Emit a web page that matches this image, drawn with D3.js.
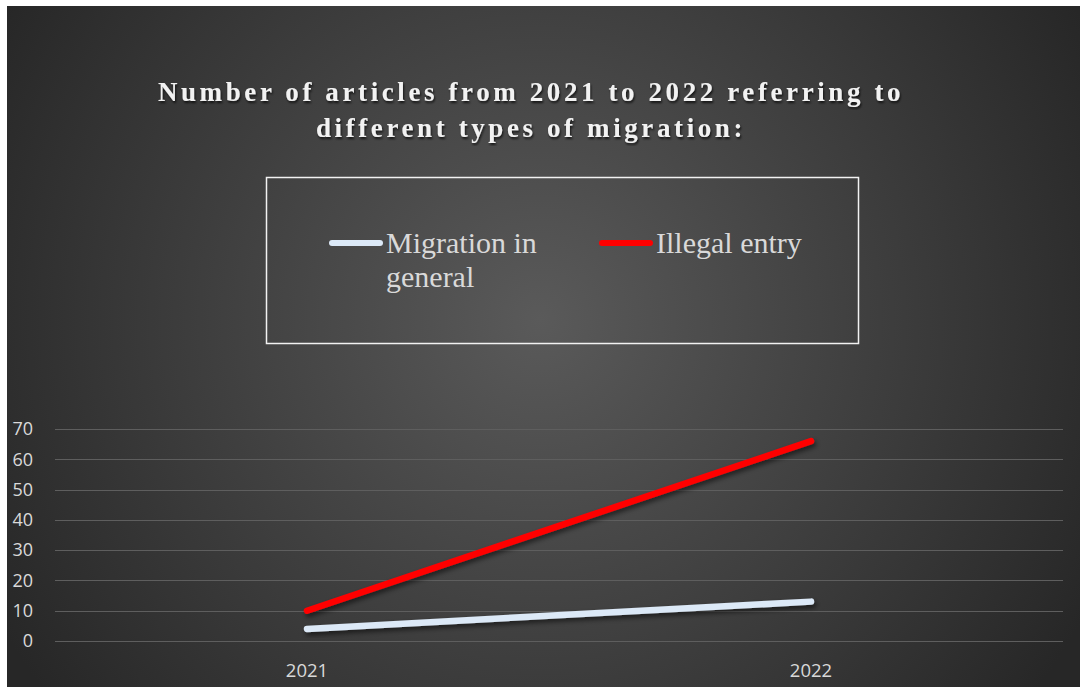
<!DOCTYPE html>
<html>
<head>
<meta charset="utf-8">
<script src="https://cdn.jsdelivr.net/npm/d3@7"></script>
<style>
  html, body { margin: 0; padding: 0; background: #ffffff; }
  svg { display: block; }
</style>
</head>
<body>
<script>
// Chart data
const categories = ["2021", "2022"];
const seriesNames = ["Migration in general", "Illegal entry"];
const migrationInGeneral = [4, 13];
const illegalEntry = [10, 66];
const yTicks = [0, 10, 20, 30, 40, 50, 60, 70];
const titleLines = [
  "Number of articles from 2021 to 2022 referring to",
  "different types of migration:"
];
const seriesColors = ["#dce9f7", "#ff0000"];

const W = 1083, H = 687;
const svg = d3.select("body").append("svg").attr("width", W).attr("height", H);
const defs = svg.append("defs");

// Dark background with a soft light centre
const grad = defs.append("radialGradient")
  .attr("id", "bg").attr("gradientUnits", "userSpaceOnUse")
  .attr("cx", 540).attr("cy", 320).attr("r", 620);
grad.append("stop").attr("offset", "0%").attr("stop-color", "#5a5a5a");
grad.append("stop").attr("offset", "100%").attr("stop-color", "#272727");

const shadow = defs.append("filter").attr("id", "shadow")
  .attr("x", "-10%").attr("y", "-30%").attr("width", "120%").attr("height", "160%");
shadow.append("feDropShadow").attr("dx", 2).attr("dy", 3).attr("stdDeviation", 2.5)
  .attr("flood-color", "#000").attr("flood-opacity", 0.55);

const textShadow = defs.append("filter").attr("id", "tshadow");
textShadow.append("feDropShadow").attr("dx", 1).attr("dy", 2).attr("stdDeviation", 1.2)
  .attr("flood-color", "#000").attr("flood-opacity", 0.7);

svg.append("rect").attr("x", 7).attr("y", 6).attr("width", 1073).attr("height", 681)
  .attr("fill", "url(#bg)");

// Title
svg.append("g").selectAll("text").data(titleLines).join("text")
  .attr("x", 531).attr("y", (d, i) => 101 + i * 36)
  .attr("text-anchor", "middle")
  .attr("font-family", "Liberation Serif, Times New Roman, serif")
  .attr("font-weight", "bold").attr("font-size", 27)
  .attr("letter-spacing", 3.6)
  .attr("fill", "#f2f2f2")
  .attr("filter", "url(#tshadow)")
  .text(d => d);

// Legend
const legend = svg.append("g");
legend.append("rect").attr("x", 266.5).attr("y", 177.5).attr("width", 592).attr("height", 166)
  .attr("fill", "none").attr("stroke", "#f2f2f2").attr("stroke-width", 1.5);

const legendItems = [
  { name: seriesNames[0], lines: ["Migration in", "general"], x: 330, color: seriesColors[0] },
  { name: seriesNames[1], lines: ["Illegal entry"], x: 600, color: seriesColors[1] }
];
legendItems.forEach(item => {
  legend.append("line").attr("x1", item.x + 2).attr("x2", item.x + 50)
    .attr("y1", 243).attr("y2", 243)
    .attr("stroke", item.color).attr("stroke-width", 6).attr("stroke-linecap", "round");
  legend.append("g").selectAll("text").data(item.lines).join("text")
    .attr("x", item.x + 56).attr("y", (d, i) => 253 + i * 34)
    .attr("font-family", "Liberation Serif, Times New Roman, serif")
    .attr("font-size", 30).attr("fill", "#d9d9d9")
    .text(d => d);
});

// Plot area
const plot = { left: 55, right: 1063, top: 429, bottom: 641 };
const x = d3.scaleBand().domain(categories).range([plot.left, plot.right]);
const y = d3.scaleLinear().domain([0, 70]).range([plot.bottom, plot.top]);

// Gridlines
svg.append("g").selectAll("line").data(yTicks).join("line")
  .attr("x1", plot.left).attr("x2", plot.right)
  .attr("y1", d => Math.round(y(d)) + 0.5).attr("y2", d => Math.round(y(d)) + 0.5)
  .attr("stroke", "#5e5e5e").attr("stroke-width", 1);

// Y axis labels
const yAxis = svg.append("g").attr("transform", `translate(${plot.left - 22},0)`)
  .call(d3.axisLeft(y).tickValues(yTicks).tickSize(0).tickPadding(0));
yAxis.select(".domain").remove();
yAxis.selectAll("text")
  .attr("font-family", "Open Sans, Noto Sans, sans-serif").attr("font-size", 18)
  .attr("fill", "#d9d9d9");

// X axis labels
const xAxis = svg.append("g").attr("transform", `translate(0,${plot.bottom + 23})`)
  .call(d3.axisBottom(x).tickSize(0).tickPadding(0));
xAxis.select(".domain").remove();
xAxis.selectAll("text")
  .attr("font-family", "Open Sans, Noto Sans, sans-serif").attr("font-size", 18.5)
  .attr("fill", "#d9d9d9");

// Series lines
const series = [
  { name: seriesNames[0], values: migrationInGeneral, color: seriesColors[0] },
  { name: seriesNames[1], values: illegalEntry, color: seriesColors[1] }
];
const line = d3.line()
  .x((d, i) => x(categories[i]) + x.bandwidth() / 2)
  .y(d => y(d));
svg.append("g").selectAll("path").data(series).join("path")
  .attr("d", d => line(d.values))
  .attr("fill", "none")
  .attr("stroke", d => d.color)
  .attr("stroke-width", 6.5)
  .attr("stroke-linecap", "round")
  .attr("filter", "url(#shadow)");
</script>
</body>
</html>
